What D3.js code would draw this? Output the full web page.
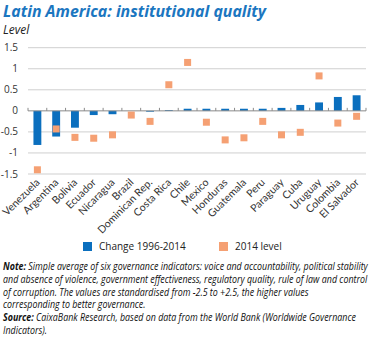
<!DOCTYPE html>
<html>
<head>
<meta charset="utf-8">
<script src="https://cdn.jsdelivr.net/npm/d3@7"></script>
<style>
  body { margin: 0; background: #fff; }
  svg { display: block; }
</style>
</head>
<body>
<svg id="chart" width="374" height="338"></svg>
<script>
// data
const countries = ["Venezuela", "Argentina", "Bolivia", "Ecuador", "Nicaragua", "Brazil",
  "Dominican Rep.", "Costa Rica", "Chile", "Mexico", "Honduras", "Guatemala", "Peru",
  "Paraguay", "Cuba", "Uruguay", "Colombia", "El Salvador"];
const change = [-0.81, -0.61, -0.40, -0.10, -0.08, 0.0, -0.02, 0.02, 0.05, 0.05, 0.05, 0.05,
  0.05, 0.07, 0.14, 0.20, 0.33, 0.37];
const level2014 = [-1.40, -0.43, -0.63, -0.65, -0.57, -0.10, -0.25, 0.62, 1.15, -0.27, -0.69,
  -0.64, -0.25, -0.57, -0.51, 0.83, -0.29, -0.13];
const yTicks = [1.5, 1, 0.5, 0, -0.5, -1, -1.5];
const noteLines = [
  ["Note:", " Simple average of six governance indicators: voice and accountability, political stability"],
  ["", "and absence of violence, government effectiveness, regulatory quality, rule of law and control"],
  ["", "of corruption. The values are standardised from -2.5 to +2.5, the higher values"],
  ["", "corresponding to better governance."],
  ["Source:", " CaixaBank Research, based on data from the World Bank (Worldwide Governance"],
  ["", "Indicators)."]
];

const blue = "#0b6fbe";
const orange = "#f5a073";

let svg = d3.select("#chart");

// Title
svg.append("text")
  .attr("x", 3).attr("y", 17)
  .attr("textLength", 263).attr("lengthAdjust", "spacingAndGlyphs")
  .style("font-family", "'Open Sans', sans-serif")
  .style("font-weight", "bold").style("font-style", "italic")
  .style("font-size", "15.5px").attr("fill", "#1b76c0")
  .text("Latin America: institutional quality");

svg.append("text")
  .attr("x", 3).attr("y", 34)
  .style("font-family", "'Open Sans', sans-serif")
  .style("font-style", "italic").style("font-size", "12px").attr("fill", "#222")
  .text("Level");

// scales
let x = d3.scaleBand().domain(countries).range([28, 366]).paddingInner(0.58).paddingOuter(0.29);
let xb = d3.scaleBand().domain(countries).range([28, 366]);
let y = d3.scaleLinear().domain([-1.5, 1.5]).range([174, 47.7]);

// gridlines
svg.append("g").selectAll("line")
  .data(yTicks.filter(d => d != 0))
  .enter().append("line")
  .attr("x1", 28).attr("x2", 366)
  .attr("y1", d => y(d)).attr("y2", d => y(d))
  .attr("stroke", "#cfcfcf").attr("stroke-width", 1);

// y labels
svg.append("g").selectAll("text")
  .data(yTicks)
  .enter().append("text")
  .attr("x", 18).attr("y", d => y(d) + 3.5)
  .attr("text-anchor", "end")
  .style("font-family", "'Open Sans', sans-serif").style("font-size", "10px")
  .attr("fill", "#333")
  .text(d => d);

// bars
svg.append("g").selectAll("rect")
  .data(countries)
  .enter().append("rect")
  .attr("x", d => x(d))
  .attr("width", x.bandwidth())
  .attr("y", (d, i) => y(Math.max(0, change[i])))
  .attr("height", (d, i) => Math.abs(y(change[i]) - y(0)))
  .attr("fill", blue);

// zero axis with ticks at band edges
let axis = svg.append("g");
axis.append("line")
  .attr("x1", 28).attr("x2", 366)
  .attr("y1", y(0)).attr("y2", y(0))
  .attr("stroke", "#8a8a8a");
axis.selectAll("line.tk")
  .data(countries.map(c => xb(c)).concat([366]))
  .enter().append("line").attr("class", "tk")
  .attr("x1", d => d).attr("x2", d => d)
  .attr("y1", y(0) - 3).attr("y2", y(0))
  .attr("stroke", "#8a8a8a");

// 2014 level markers
let ms = 7;
svg.append("g").selectAll("rect")
  .data(countries)
  .enter().append("rect")
  .attr("x", d => xb(d) + xb.bandwidth() / 2 - ms / 2)
  .attr("y", (d, i) => y(level2014[i]) - ms / 2)
  .attr("width", ms).attr("height", ms)
  .attr("fill", orange);

// category labels
svg.append("g").selectAll("text")
  .data(countries)
  .enter().append("text")
  .attr("transform", d => `translate(${xb(d) + xb.bandwidth() / 2 + 3}, 183) rotate(-45)`)
  .attr("text-anchor", "end")
  .style("font-family", "Lato, sans-serif").style("font-size", "10.5px")
  .attr("fill", "#333")
  .text(d => d);

// legend
let legend = svg.append("g").style("font-family", "'Open Sans', sans-serif").style("font-size", "10px");
legend.append("rect").attr("x", 83).attr("y", 242).attr("width", 9).attr("height", 9).attr("fill", blue);
legend.append("text").attr("x", 99).attr("y", 250).attr("fill", "#222").text("Change 1996-2014");
legend.append("rect").attr("x", 219).attr("y", 242).attr("width", 9).attr("height", 9).attr("fill", orange);
legend.append("text").attr("x", 235).attr("y", 250).attr("fill", "#222").text("2014 level");

// notes
let note = svg.append("g")
  .style("font-family", "'Open Sans', sans-serif")
  .style("font-style", "italic").style("font-size", "10px").attr("fill", "#111");
let lineEls = [];
noteLines.forEach((l, i) => {
  let t = note.append("text").attr("x", 0).attr("y", 270 + i * 12.8);
  if (l[0]) t.append("tspan").style("font-weight", "bold").text(l[0]);
  t.append("tspan").text(l[1]);
  lineEls.push(t);
});
let w0 = lineEls[0].node().getComputedTextLength();
let k = 365 / w0;
note.attr("transform", `translate(3,0) scale(${k},1)`);
</script>
</body>
</html>
